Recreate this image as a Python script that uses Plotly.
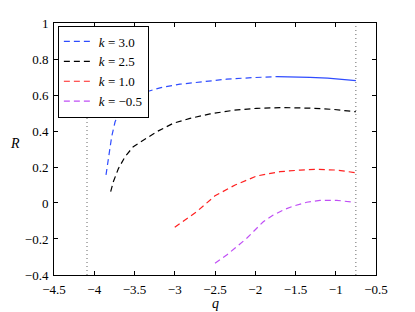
import plotly.graph_objects as go

# k = 3.0 (dashed part, then solid part)
q_k30 = [-3.854, -3.825, -3.783, -3.742, -3.68, -3.597, -3.473, -3.348, -3.183, -2.935, -2.686, -2.355, -2.02, -1.73]
R_k30 = [0.156, 0.24, 0.37, 0.45, 0.517, 0.563, 0.60, 0.618, 0.64, 0.66, 0.672, 0.688, 0.697, 0.702]
q_k30s = [-1.73, -1.5, -1.32, -1.1, -0.9, -0.75]
R_k30s = [0.702, 0.701, 0.698, 0.694, 0.688, 0.68]

q_k25 = [-3.796, -3.763, -3.701, -3.618, -3.515, -3.391, -3.224, -3.018, -2.811, -2.562, -2.273, -1.982, -1.652, -1.32, -1.03, -0.749]
R_k25 = [0.063, 0.118, 0.19, 0.257, 0.313, 0.35, 0.396, 0.443, 0.47, 0.495, 0.515, 0.526, 0.53, 0.527, 0.52, 0.507]

q_k10 = [-3.0, -2.852, -2.727, -2.5, -2.25, -1.982, -1.693, -1.444, -1.237, -0.988, -0.749]
R_k10 = [-0.135, -0.09, -0.048, 0.04, 0.1, 0.15, 0.174, 0.183, 0.187, 0.183, 0.168]

q_km05 = [-2.5, -2.355, -2.23, -2.106, -2.003, -1.9, -1.776, -1.652, -1.527, -1.361, -1.196, -0.988, -0.761]
R_km05 = [-0.335, -0.289, -0.243, -0.196, -0.15, -0.104, -0.067, -0.039, -0.017, 0.004, 0.014, 0.015, 0.003]

boundaries = [-4.09, -0.75]

x_ticks = [-4.5, -4, -3.5, -3, -2.5, -2, -1.5, -1, -0.5]
y_ticks = [-0.4, -0.2, 0, 0.2, 0.4, 0.6, 0.8, 1]

BLUE = "#2f4cff"
BLACK = "#000000"
RED = "#ff2020"
PURPLE = "#c04ff5"
DASH = "6px,4px"
FONT = "'Liberation Serif', 'Times New Roman', Times, serif"

fig = go.Figure()
fig.add_trace(go.Scatter(x=q_k30, y=R_k30, mode="lines", name="<i>k</i> = 3.0",
                         line=dict(color=BLUE, width=1.2, dash=DASH)))
fig.add_trace(go.Scatter(x=q_k30s, y=R_k30s, mode="lines", showlegend=False,
                         line=dict(color=BLUE, width=1.2)))
fig.add_trace(go.Scatter(x=q_k25, y=R_k25, mode="lines", name="<i>k</i> = 2.5",
                         line=dict(color=BLACK, width=1.2, dash=DASH)))
fig.add_trace(go.Scatter(x=q_k10, y=R_k10, mode="lines", name="<i>k</i> = 1.0",
                         line=dict(color=RED, width=1.2, dash=DASH)))
fig.add_trace(go.Scatter(x=q_km05, y=R_km05, mode="lines", name="<i>k</i> = −0.5",
                         line=dict(color=PURPLE, width=1.2, dash=DASH)))

for b in boundaries:
    fig.add_shape(type="line", x0=b, x1=b, y0=0, y1=1, xref="x", yref="paper",
                  line=dict(color="#666666", width=1, dash="1px,3px"), layer="below")

axis_common = dict(showline=True, linecolor="black", linewidth=1, mirror="ticks",
                   ticks="inside", ticklen=4, tickcolor="black", showgrid=False,
                   zeroline=False, tickfont=dict(family=FONT, size=13, color="black"))

fig.update_layout(
    width=415, height=312,
    margin=dict(l=54, r=39, t=23, b=37),
    paper_bgcolor="white", plot_bgcolor="white",
    font=dict(family=FONT, size=13, color="black"),
    showlegend=True,
    legend=dict(x=0.012, y=0.99, xanchor="left", yanchor="top",
                bgcolor="white", bordercolor="black", borderwidth=1,
                font=dict(family=FONT, size=13, color="black"),
                tracegroupgap=0, itemwidth=30),
    xaxis=dict(range=[-4.5001, -0.4999], tickvals=x_ticks, ticklabelstandoff=2, **axis_common),
    yaxis=dict(range=[-0.4001, 1.0001], tickvals=y_ticks, ticklabelstandoff=2, **axis_common),
    annotations=[
        dict(text="<i>q</i>", x=0.5, y=-0.115, xref="paper", yref="paper",
             showarrow=False, yanchor="middle", font=dict(family=FONT, size=14)),
        dict(text="<i>R</i>", x=-0.1, y=0.52, xref="paper", yref="paper",
             showarrow=False, xanchor="right", font=dict(family=FONT, size=14)),
    ],
)

fig.write_html("out.html", config={"displayModeBar": False},
               post_script="document.body.style.margin='0';document.body.style.overflow='hidden';")
